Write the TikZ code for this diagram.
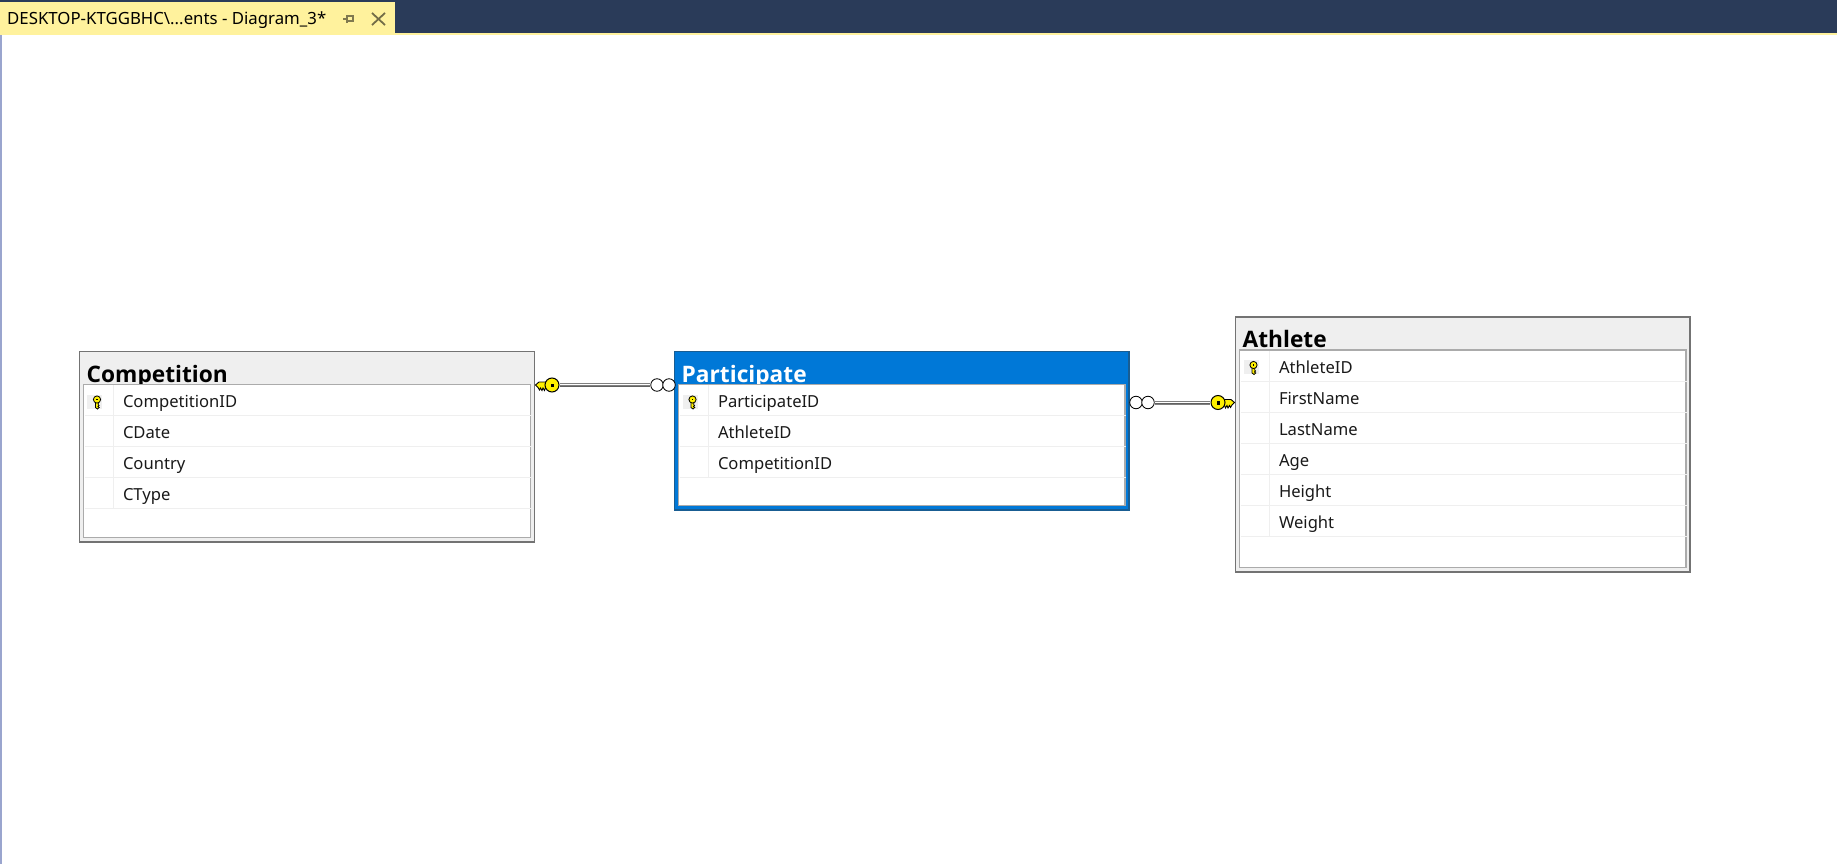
\documentclass[tikz,border=0pt]{standalone}
\usepackage{fontspec}
\setmainfont{Noto Sans}
\newfontfamily\titlefont{Open Sans}
\definecolor{navy}{HTML}{2A3B59}
\definecolor{tabyellow}{HTML}{FFF29D}
\definecolor{sidebar}{HTML}{9AA5CE}
\definecolor{headgray}{HTML}{EFEFEF}
\definecolor{selblue}{HTML}{0078D7}
\definecolor{keyyellow}{HTML}{FFF000}
\tikzset{
  x=1pt,y=-1pt,
  outerbox/.style={rectangle,draw=#1,line width=1.1pt,inner sep=0pt,outer sep=0pt,anchor=north west},
  innerbox/.style={rectangle,draw=black!33,line width=1.3pt,fill=white,inner sep=0pt,outer sep=0pt,anchor=north west},
  titletext/.style={font=\titlefont\fontsize{22.7}{24}\selectfont\bfseries,anchor=base west,inner sep=0pt,outer sep=0pt},
  rowtext/.style={font=\fontsize{16.6}{18}\selectfont,anchor=base west,inner sep=0pt,outer sep=0pt,text=black!90},
  rowline/.style={draw=headgray,line width=1pt},
  keycell/.style={rectangle,fill=headgray,minimum width=15pt,minimum height=14pt,inner sep=0pt,outer sep=0pt},
  loopnode/.style={circle,draw=black,line width=.8pt,fill=white,minimum size=12.5pt,inner sep=0pt,outer sep=0pt},
  keyhead/.style={circle,draw=black,line width=1pt,fill=keyyellow,minimum size=14pt,inner sep=0pt,outer sep=0pt},
  keydot/.style={rectangle,fill=black,minimum size=3.4pt,inner sep=0pt,outer sep=0pt},
  relation/.style={draw=black!50,line width=4pt,shorten <=1pt,shorten >=1pt,
    postaction={draw=white,line width=1.3pt,transform canvas={yshift=.3pt}},
    postaction={draw=black!62,line width=1.3pt,transform canvas={yshift=-1.3pt}}},
  keyshaft/.pic={
    \path[fill=keyyellow,draw=black,line width=.9pt,line join=miter]
      (-16.5,0)--(-13,-3)--(-5,-3)--(-5,3)--(-6.5,3)--(-7.5,5.5)--(-9,3)--(-10,5.5)--(-11.5,3)--(-12.5,5)--(-14,2.5)--cycle;
  },
  smallkey/.pic={
    \path[fill=keyyellow,draw=black,line width=.8pt]
      (-1.5,1)--(-1.5,6.5)--(0.5,8)--(2.2,6.5)--(1,5.5)--(2,4.5)--(1.2,3.5)--(1.5,1)--cycle;
    \path[fill=keyyellow,draw=black,line width=.8pt] (0,-1.5) circle[radius=3.6pt];
    \path[fill=black] (-.8,-2.3) rectangle (.8,-.7);
  },
}
\newcommand{\dbtable}[9]{%
  % #1 name #2 left #3 top #4 width #5 height #6 fill #7 border #8 title #9 title colour
  \node[outerbox=#7,fill=#6,minimum width=#4pt,minimum height=#5pt] (#1) at (#2,#3) {};
  \node[titletext,text=#9] (#1title) at (#2+7.2,#3+30.5) {#8};
  \node[innerbox,minimum width=#4pt-8pt,minimum height=#5pt-37.5pt] (#1body) at (#2+4,#3+33) {};
}
\newcommand{\dbrow}[4]{%
  % #1 node name #2 table left #3 row top #4 text
  \draw[rowline] (#2+5,#3+32) -- (#2+451,#3+32);
  \node[rowtext] (#1) at (#2+43.5,#3+24) {#4};
}
\begin{document}
\begin{tikzpicture}
\useasboundingbox (0,0) rectangle (1837,864);
\fill[white] (0,0) rectangle (1837,864);
% window chrome
\fill[navy] (0,0) rectangle (1837,33);
\fill[tabyellow] (0,33) rectangle (1837,35);
\fill[tabyellow] (0,2) rectangle (395,35);
\fill[sidebar] (0,35) rectangle (2,864);
\node[font=\fontsize{16.8}{18}\selectfont,anchor=base west,inner sep=0pt,text=black] (tabtitle) at (7,25) {DESKTOP-KTGGBHC\textbackslash...ents - Diagram\_3*};
\draw[draw=black!50!tabyellow,line width=1.4pt] (343,19)--(347,19) (347,15)--(347,23) (347,16) rectangle (353,21);
\draw[draw=black!55!tabyellow,line width=1.8pt] (372,13)--(385,25) (385,13)--(372,25);

% Competition
\dbtable{comp}{79.5}{351.5}{455}{190.5}{headgray}{black!55}{Competition}{black}
\draw[rowline] (113,385)--(113,509);
\node[keycell] (compkey) at (94.5,401.5) {};
\pic at (97,401) {smallkey};
\dbrow{compa}{79.5}{383.5}{CompetitionID}
\dbrow{compb}{79.5}{414.5}{CDate}
\dbrow{compc}{79.5}{445.5}{Country}
\dbrow{compd}{79.5}{476.5}{CType}

% Participate
\dbtable{part}{674.5}{351.5}{454.5}{158.5}{selblue}{black!30!selblue!80!gray}{Participate}{white}
\draw[rowline] (708.5,385)--(708.5,478);
\node[keycell] (partkey) at (690,401.5) {};
\pic at (692.5,401) {smallkey};
\dbrow{parta}{674.5}{383.5}{ParticipateID}
\dbrow{partb}{674.5}{414.5}{AthleteID}
\dbrow{partc}{674.5}{445.5}{CompetitionID}

% Athlete
\dbtable{ath}{1235.5}{317}{454.5}{255}{headgray}{black!55}{Athlete}{black}
\draw[rowline] (1269.5,351)--(1269.5,537);
\node[keycell] (athkey) at (1251,367) {};
\pic at (1253.5,366.5) {smallkey};
\dbrow{atha}{1235.5}{349}{AthleteID}
\dbrow{athb}{1235.5}{380}{FirstName}
\dbrow{athc}{1235.5}{411}{LastName}
\dbrow{athd}{1235.5}{442}{Age}
\dbrow{athe}{1235.5}{473}{Height}
\dbrow{athf}{1235.5}{504}{Weight}

% Relationships
\pic at (552,385) {keyshaft};
\node[keyhead] (key1) at (552,385) {};
\node[keydot] (dot1) at (552.5,385.5) {};
\node[loopnode] (loop1a) at (657,385) {};
\node[loopnode] (loop1b) at (669,385) {};
\draw[relation] (key1) -- (loop1a);

\pic[xscale=-1] at (1218,402.5) {keyshaft};
\node[keyhead] (key2) at (1218,402.5) {};
\node[keydot] (dot2) at (1218.5,403) {};
\node[loopnode] (loop2a) at (1136,402.5) {};
\node[loopnode] (loop2b) at (1148,402.5) {};
\draw[relation] (loop2b) -- (key2);
\end{tikzpicture}
\end{document}
